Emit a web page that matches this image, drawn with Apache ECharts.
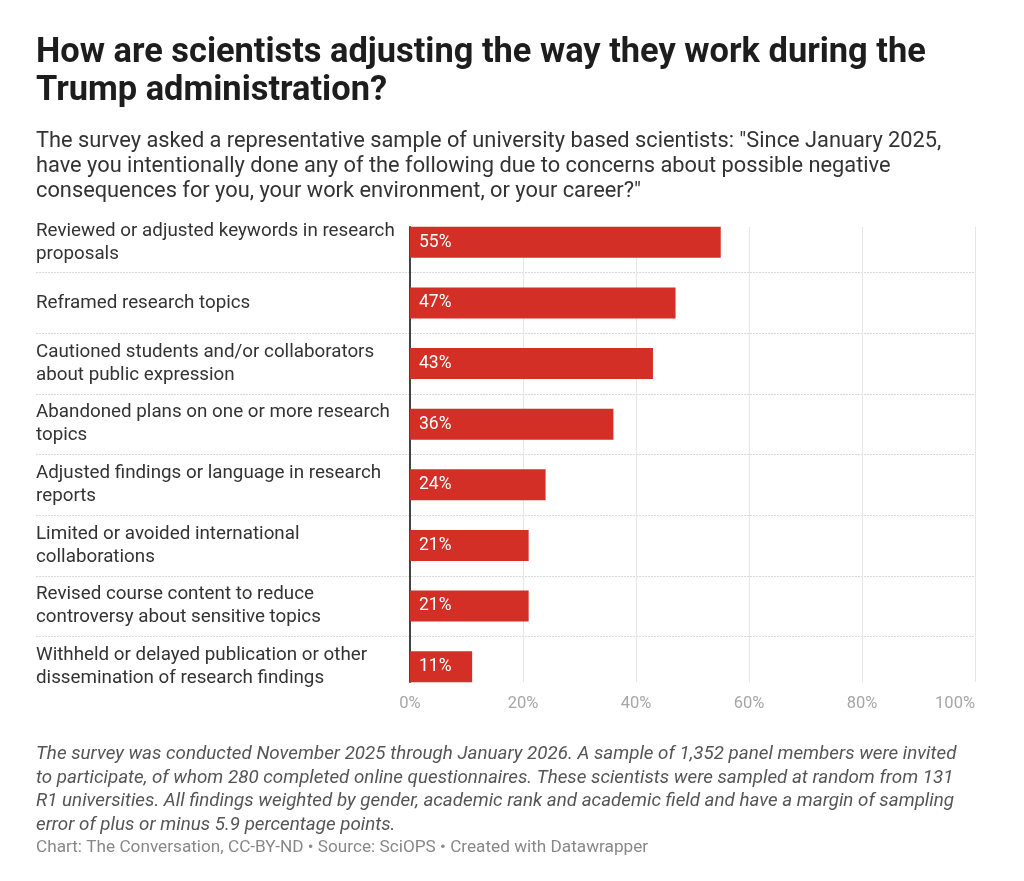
<!DOCTYPE html>
<html lang="en">
<head>
<meta charset="UTF-8">
<title>Scientists adjusting work</title>
<script src="https://cdn.jsdelivr.net/npm/echarts@6/dist/echarts.min.js"></script>
<style>
    html, body, #chart {
        width: 100%;
        height: 100%;
        margin: 0;
        padding: 0;
        background: #fff;
    }
</style>
</head>
<body>
<div id="chart"></div>
<script>
    // category labels, wrapped the way the original chart wraps them
    const categories = [
        'Reviewed or adjusted keywords in research\nproposals',
        'Reframed research topics',
        'Cautioned students and/or collaborators\nabout public expression',
        'Abandoned plans on one or more research\ntopics',
        'Adjusted findings or language in research\nreports',
        'Limited or avoided international\ncollaborations',
        'Revised course content to reduce\ncontroversy about sensitive topics',
        'Withheld or delayed publication or other\ndissemination of research findings'
    ];
    const shares = [55, 47, 43, 36, 24, 21, 21, 11];
    const xTicks = [0, 20, 40, 60, 80, 100];

    const titleText = 'How are scientists adjusting the way they work during the\nTrump administration?';
    const subtitleText = 'The survey asked a representative sample of university based scientists: "Since January 2025,\n' +
        'have you intentionally done any of the following due to concerns about possible negative\n' +
        'consequences for you, your work environment, or your career?"';
    const notesText = 'The survey was conducted November 2025 through January 2026. A sample of 1,352 panel members were invited\n' +
        'to participate, of whom 280 completed online questionnaires. These scientists were sampled at random from 131\n' +
        'R1 universities. All findings weighted by gender, academic rank and academic field and have a margin of sampling\n' +
        'error of plus or minus 5.9 percentage points.';
    const creditText = 'Chart: The Conversation, CC-BY-ND \u2022 Source: SciOPS \u2022 Created with Datawrapper';

    const font = 'Roboto';
    const chart = echarts.init(document.getElementById('chart'));

    const option = {
        animation: false,
        textStyle: { fontFamily: font },
        title: [
            {
                text: titleText, left: 36, top: 34, padding: 0,
                textStyle: { fontSize: 34.4, fontWeight: 'bold', color: '#1d1d1d', lineHeight: 38, fontFamily: font }
            },
            {
                text: subtitleText, left: 36, top: 129, padding: 0,
                textStyle: { fontSize: 21.8, fontWeight: 'normal', color: '#333', lineHeight: 25, fontFamily: font }
            },
            {
                text: notesText, left: 36, top: 743, padding: 0,
                textStyle: { fontSize: 18.8, fontWeight: 'normal', fontStyle: 'italic', color: '#555', lineHeight: 23.5, fontFamily: font }
            },
            {
                text: creditText, left: 36, top: 839, padding: 0,
                textStyle: { fontSize: 17.2, fontWeight: 'normal', color: '#888', lineHeight: 18, fontFamily: font }
            }
        ],
        grid: [
            // row separators + category labels
            { left: 36, right: 49, top: 212, height: 485, containLabel: false },
            // vertical gridlines, x labels, axis line
            { left: 410, right: 49, top: 227, height: 455, containLabel: false },
            // bars
            { left: 410, right: 49, top: 212, height: 485, containLabel: false }
        ],
        xAxis: [
            { gridIndex: 0, type: 'value', min: 0, max: 100, show: false },
            {
                gridIndex: 1, type: 'value', min: 0, max: 100, interval: 20,
                axisLine: { show: false }, axisTick: { show: false },
                splitLine: { show: true, lineStyle: { color: '#e6e6e6', width: 1 } },
                axisLabel: {
                    margin: 13, fontSize: 16.5, color: '#a6a6a6', fontFamily: font,
                    formatter: function (v) { return xTicks.indexOf(v) >= 0 ? v + '%' : ''; },
                    alignMaxLabel: 'right'
                }
            },
            { gridIndex: 2, type: 'value', min: 0, max: 100, show: false }
        ],
        yAxis: [
            {
                gridIndex: 0, type: 'category', data: categories, inverse: true,
                axisLine: { show: false }, axisTick: { show: false },
                splitLine: {
                    show: true, showMinLine: false, showMaxLine: false,
                    lineStyle: { color: '#d9d9d9', type: [2, 1], width: 1 }
                },
                axisLabel: {
                    inside: true, margin: 0, align: 'left', fontSize: 18.8, lineHeight: 23,
                    color: '#333', fontFamily: font
                }
            },
            {
                gridIndex: 1, type: 'category', data: categories, inverse: true,
                axisLine: { show: true, lineStyle: { color: '#444', width: 2 } },
                axisTick: { show: false }, axisLabel: { show: false }, splitLine: { show: false }
            },
            {
                gridIndex: 2, type: 'category', data: categories, inverse: true, show: false
            }
        ],
        series: [
            {
                type: 'bar', xAxisIndex: 2, yAxisIndex: 2, data: shares,
                barWidth: 31, z: 5,
                itemStyle: { color: '#d32f27' },
                label: {
                    show: true, position: 'insideLeft', distance: 9,
                    formatter: '{c}%', color: '#fff', fontSize: 17.5, fontFamily: font
                }
            }
        ]
    };

    chart.setOption(option);
</script>
</body>
</html>
